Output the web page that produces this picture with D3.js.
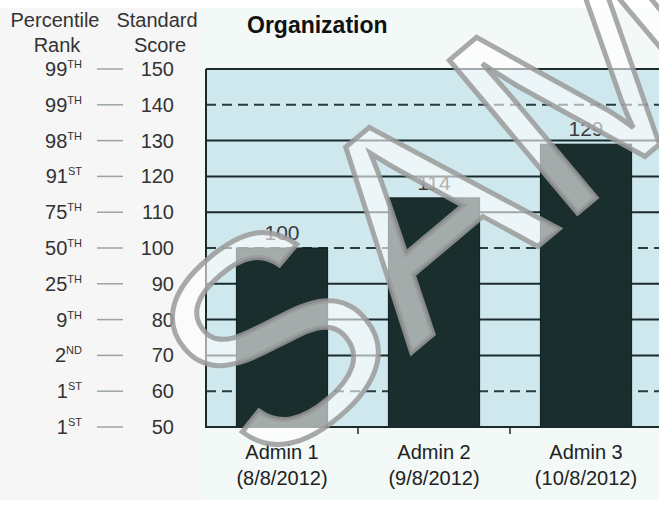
<!DOCTYPE html>
<html><head><meta charset="utf-8">
<script src="https://cdn.jsdelivr.net/npm/d3@7"></script>
<style>html,body{margin:0;padding:0;background:#fff;}svg{display:block;}</style>
</head><body>
<svg id="c" width="659" height="505"></svg>
<script>
const categories = ["Admin 1", "Admin 2", "Admin 3"];
const dates = ["(8/8/2012)", "(9/8/2012)", "(10/8/2012)"];
const scores = [100, 114, 129];
const scoreTicks = [150, 140, 130, 120, 110, 100, 90, 80, 70, 60, 50];
const percentileNums = ["99", "99", "98", "91", "75", "50", "25", "9", "2", "1", "1"];
const percentileSuffix = ["TH", "TH", "TH", "ST", "TH", "TH", "TH", "TH", "ND", "ST", "ST"];
const dashedTicks = [140, 100, 60];
const title = "Organization";

const svg = d3.select("#c");
const font = "'Liberation Sans', Arial, sans-serif";
const W = 659, H = 505;
const plotL = 206, plotR = 662, plotT = 69, plotB = 427;

// backgrounds
svg.append("rect").attr("x", 0).attr("y", 8).attr("width", 200).attr("height", 492).attr("fill", "#f6f6f6");
svg.append("rect").attr("x", 200).attr("y", 8).attr("width", W - 200).attr("height", 492).attr("fill", "#f3f9f7");

const y = d3.scaleLinear().domain([50, 150]).range([plotB, plotT]);
const x = d3.scaleBand().domain(categories).range([plotL, plotR]).paddingInner(0.4).paddingOuter(0.2);

svg.append("rect").attr("x", plotL).attr("y", plotT).attr("width", plotR - plotL).attr("height", plotB - plotT).attr("fill", "#cfe8ee");

// gridlines
const grid = svg.append("g");
scoreTicks.forEach(t => {
  const dashed = dashedTicks.includes(t);
  grid.append("line")
    .attr("x1", plotL).attr("x2", plotR)
    .attr("y1", y(t)).attr("y2", y(t))
    .attr("stroke", dashed ? "#2b3b3b" : "#1b2a2a")
    .attr("stroke-width", 2)
    .attr("stroke-dasharray", dashed ? "10,6" : null);
});

// bars
svg.append("g").selectAll("rect").data(scores).join("rect")
  .attr("x", (d, i) => x(categories[i]))
  .attr("y", d => y(d))
  .attr("width", x.bandwidth())
  .attr("height", d => y(50) - y(d))
  .attr("fill", "#1a2e2e")
  .attr("stroke", "#0e1b1b").attr("stroke-width", 1);

// value labels
svg.append("g").selectAll("text").data(scores).join("text")
  .attr("x", (d, i) => x(categories[i]) + x.bandwidth() / 2)
  .attr("y", d => y(d) - 8)
  .attr("text-anchor", "middle")
  .attr("font-family", font).attr("font-size", 21)
  .attr("fill", "#3a3a3a")
  .text(d => d);

// plot frame
svg.append("line").attr("x1", plotL).attr("x2", plotL).attr("y1", plotT).attr("y2", plotB + 1).attr("stroke", "#1b2a2a").attr("stroke-width", 2);
svg.append("line").attr("x1", plotL).attr("x2", plotR).attr("y1", plotB).attr("y2", plotB).attr("stroke", "#1b2a2a").attr("stroke-width", 2);

// x axis ticks between categories
const bounds = categories.slice(1).map(c => x(c) - x.step() * x.paddingInner() / 2);
svg.append("g").selectAll("line").data(bounds).join("line")
  .attr("x1", d => d).attr("x2", d => d).attr("y1", plotB).attr("y2", plotB + 7)
  .attr("stroke", "#1b2a2a").attr("stroke-width", 1.5);

// x labels
const xl = svg.append("g").attr("font-family", font).attr("font-size", 20).attr("fill", "#222").attr("text-anchor", "middle");
categories.forEach((c, i) => {
  const cx = x(c) + x.bandwidth() / 2;
  xl.append("text").attr("x", cx).attr("y", 459).text(c);
  xl.append("text").attr("x", cx).attr("y", 485).text(dates[i]);
});

// title
svg.append("text").attr("x", 247).attr("y", 33).attr("font-family", font).attr("font-weight", "bold").attr("font-size", 23).attr("fill", "#111").text(title);

// left scale
const left = svg.append("g").attr("font-family", font).attr("fill", "#333");
left.append("text").attr("x", 55).attr("y", 27).attr("text-anchor", "middle").attr("font-size", 20).text("Percentile");
left.append("text").attr("x", 57).attr("y", 52).attr("text-anchor", "middle").attr("font-size", 20).text("Rank");
left.append("text").attr("x", 157).attr("y", 27).attr("text-anchor", "middle").attr("font-size", 20).text("Standard");
left.append("text").attr("x", 160).attr("y", 52).attr("text-anchor", "middle").attr("font-size", 20).text("Score");

scoreTicks.forEach((t, i) => {
  const yy = y(t);
  const pt = left.append("text").attr("x", 82).attr("y", yy + 7).attr("text-anchor", "end").attr("font-size", 20);
  pt.append("tspan").text(percentileNums[i]);
  pt.append("tspan").attr("font-size", 11).attr("dy", -8).text(percentileSuffix[i]);
  left.append("line").attr("x1", 97).attr("x2", 123).attr("y1", yy).attr("y2", yy).attr("stroke", "#9aa4a6").attr("stroke-width", 1.5);
  left.append("text").attr("x", 174).attr("y", yy + 7).attr("text-anchor", "end").attr("font-size", 20).text(t);
});

// watermark
svg.append("text")
  .attr("transform", "translate(263,477) rotate(-40)")
  .attr("font-family", font).attr("font-size", 290)
  .attr("fill", "#ffffff").attr("fill-opacity", 0.6)
  .attr("stroke", "#9a9a9a").attr("stroke-opacity", 0.85).attr("stroke-width", 5)
  .text("SAMPLE");
</script>
</body></html>
